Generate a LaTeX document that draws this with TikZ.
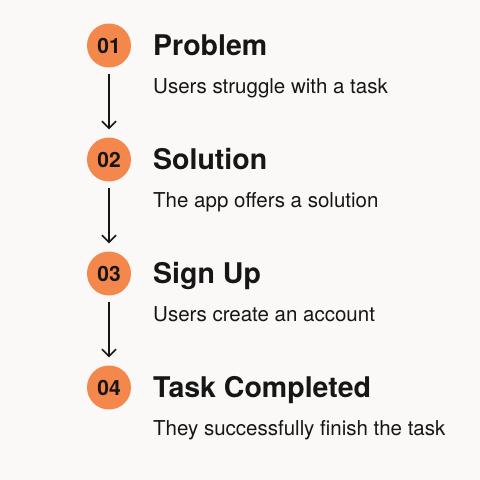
\documentclass[tikz,border=0pt]{standalone}
\usepackage{fontspec}
\setmainfont{TeX Gyre Heros}
\usetikzlibrary{arrows.meta, positioning}
\definecolor{stepbg}{HTML}{FAF9F7}
\definecolor{steporange}{HTML}{F4874B}
\definecolor{stepink}{HTML}{161616}

\tikzset{
  stepnum/.style={circle, fill=steporange, minimum size=44pt, inner sep=0pt, text=stepink, font=\fontsize{21}{21}\selectfont\bfseries},
  steptitle/.style={anchor=base west, inner sep=0pt, text=stepink, font=\fontsize{28.5}{28.5}\selectfont\bfseries},
  stepdesc/.style={anchor=base west, inner sep=0pt, text=stepink, font=\fontsize{20.5}{20.5}\selectfont},
  steparrow/.style={-{Straight Barb[length=7pt,width=14pt]}, line width=1.5pt, stepink, shorten <=6pt, shorten >=8pt}
}

\begin{document}
\begin{tikzpicture}[x=1pt, y=-1pt]
\fill[stepbg] (0,0) rectangle (480,480);
\useasboundingbox (0,0) rectangle (480,480);

\node[stepnum] (n1) at (109,45.5) {01};
\node[steptitle] (t1) at (153,55) {Problem};
\node[stepdesc] (d1) at (153,93) {Users struggle with a task};

\node[stepnum] (n2) at (109,159.5) {02};
\node[steptitle] (t2) at (153,169) {Solution};
\node[stepdesc] (d2) at (153,207) {The app offers a solution};

\node[stepnum] (n3) at (109,273.5) {03};
\node[steptitle] (t3) at (153,283) {Sign Up};
\node[stepdesc] (d3) at (153,321) {Users create an account};

\node[stepnum] (n4) at (109,387.5) {04};
\node[steptitle] (t4) at (153,397) {Task Completed};
\node[stepdesc] (d4) at (153,435) {They successfully finish the task};

\draw[steparrow] (n1) -- (n2);
\draw[steparrow] (n2) -- (n3);
\draw[steparrow] (n3) -- (n4);

\end{tikzpicture}
\end{document}
